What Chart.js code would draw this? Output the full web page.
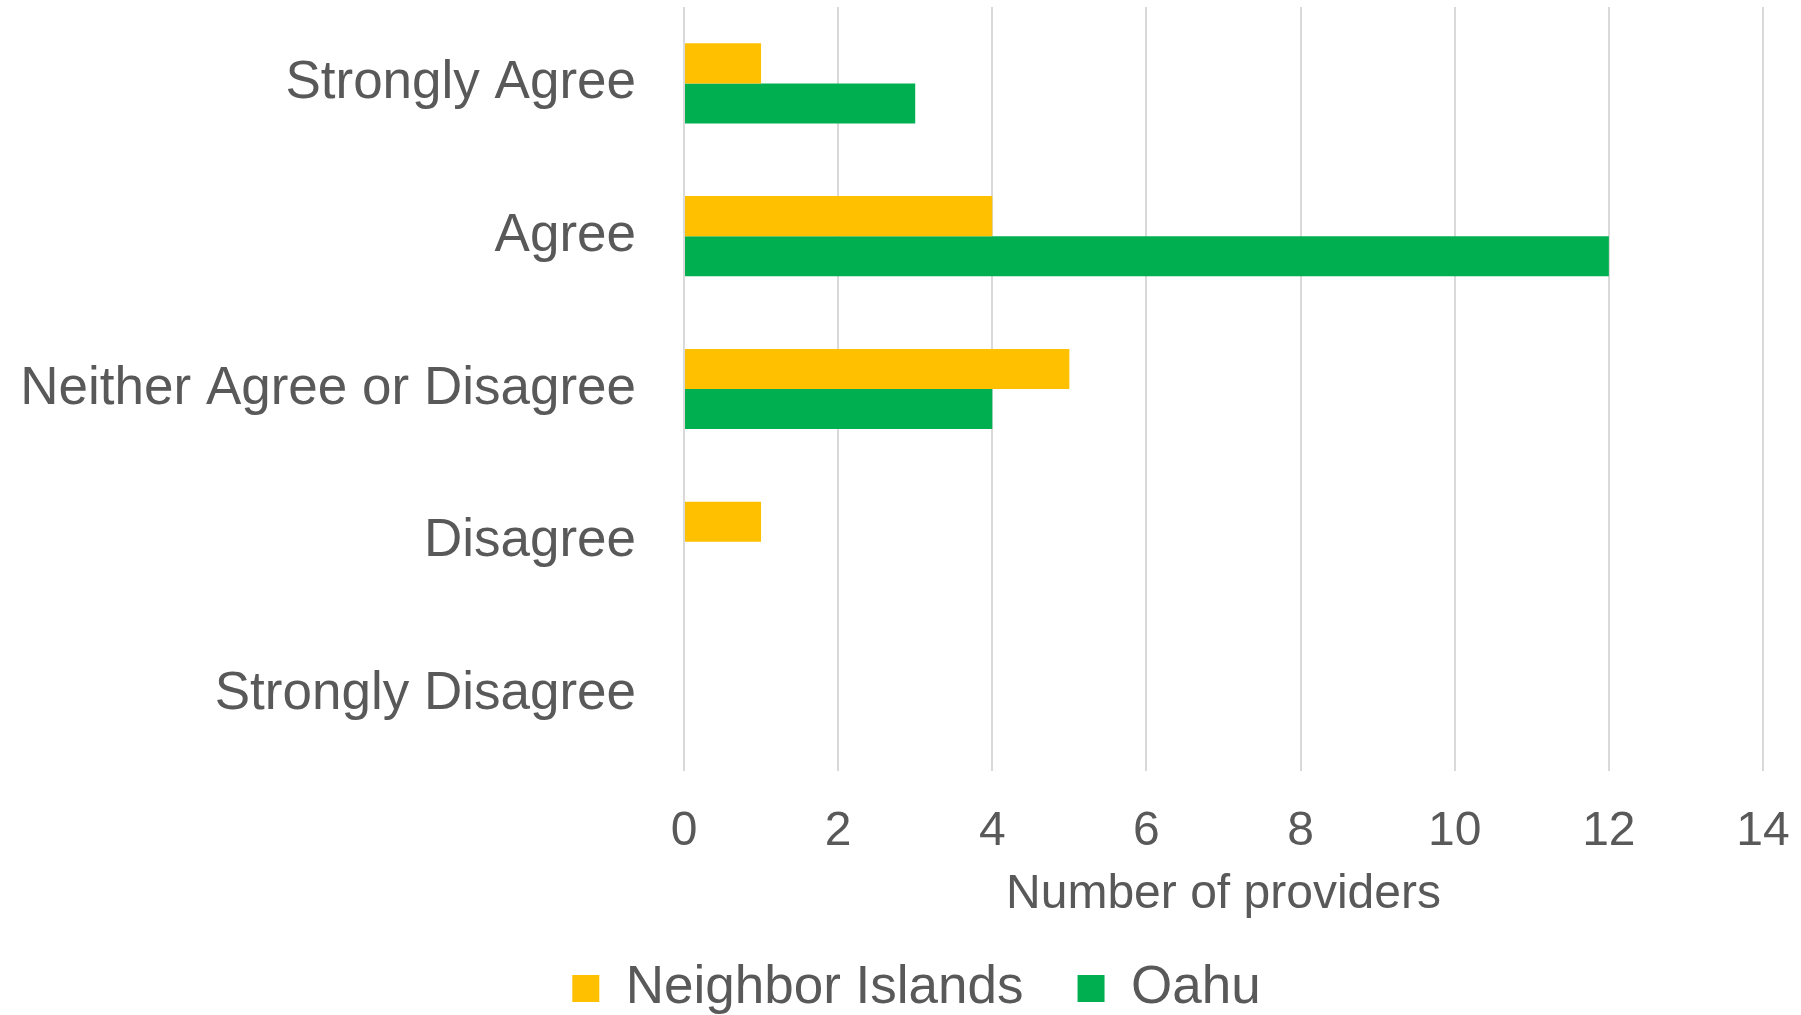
<!DOCTYPE html>
<html>
<head>
<meta charset="utf-8">
<script src="https://cdn.jsdelivr.net/npm/chart.js@4"></script>
<style>
  html, body { margin: 0; padding: 0; background: #ffffff; }
  #wrap { width: 1801px; height: 1015px; position: relative; }
</style>
</head>
<body>
<div id="wrap"><canvas id="chart"></canvas></div>
<script>
/* ---- data ---- */
const categories = ['Strongly Agree', 'Agree', 'Neither Agree or Disagree', 'Disagree', 'Strongly Disagree'];
const neighborIslands = [1, 4, 5, 1, 0];
const oahu = [3, 12, 4, 0, 0];
const xTicks = [0, 2, 4, 6, 8, 10, 12, 14];

const TEXT = '#595959';
const GRID = '#d9d9d9';
const FONT = "'Liberation Sans', Arial, sans-serif";

/* ---- the original legend sits a little right of centre ---- */
const legendShift = {
  id: 'legendShift',
  afterLayout(chart) {
    if (!chart.legend) return;
    chart.legend.left += 35;
    chart.legend.right += 35;
  },
};

new Chart(document.getElementById('chart'), {
  type: 'bar',
  data: {
    labels: categories,
    datasets: [
      { label: 'Neighbor Islands', data: neighborIslands, backgroundColor: '#ffc000' },
      { label: 'Oahu', data: oahu, backgroundColor: '#00b050' },
    ],
  },
  options: {
    indexAxis: 'y',
    responsive: true,
    maintainAspectRatio: false,
    animation: false,
    categoryPercentage: 0.525,
    barPercentage: 1.0,
    layout: { padding: { top: 7, left: 0, right: 38, bottom: -10 } },
    plugins: {
      tooltip: { enabled: false },
      legend: {
        position: 'bottom',
        labels: {
          color: TEXT,
          font: { family: FONT, size: 53 },
          boxWidth: 27,
          boxHeight: 27,
          padding: 54,
        },
      },
    },
    scales: {
      x: {
        min: 0,
        max: 14,
        afterBuildTicks: (scale) => { scale.ticks = xTicks.map(v => ({ value: v })); },
        afterFit: (scale) => {
          scale.height = 137;
          scale.paddingLeft = 0;
          scale.paddingRight = 0;
        },
        grid: { color: GRID, lineWidth: 2, drawTicks: false },
        border: { display: false },
        ticks: { color: TEXT, font: { family: FONT, size: 48 }, padding: 32 },
        title: {
          display: true,
          text: 'Number of providers',
          color: TEXT,
          font: { family: FONT, size: 48 },
          padding: { top: 0, bottom: -16 },
        },
      },
      y: {
        afterFit: (scale) => {
          scale.width = 684;
          scale.paddingTop = 0;
          scale.paddingBottom = 0;
        },
        grid: { display: false, drawTicks: false },
        border: { display: false },
        ticks: { color: TEXT, font: { family: FONT, size: 53 }, padding: 48 },
      },
    },
  },
  plugins: [legendShift],
});
</script>
</body>
</html>
